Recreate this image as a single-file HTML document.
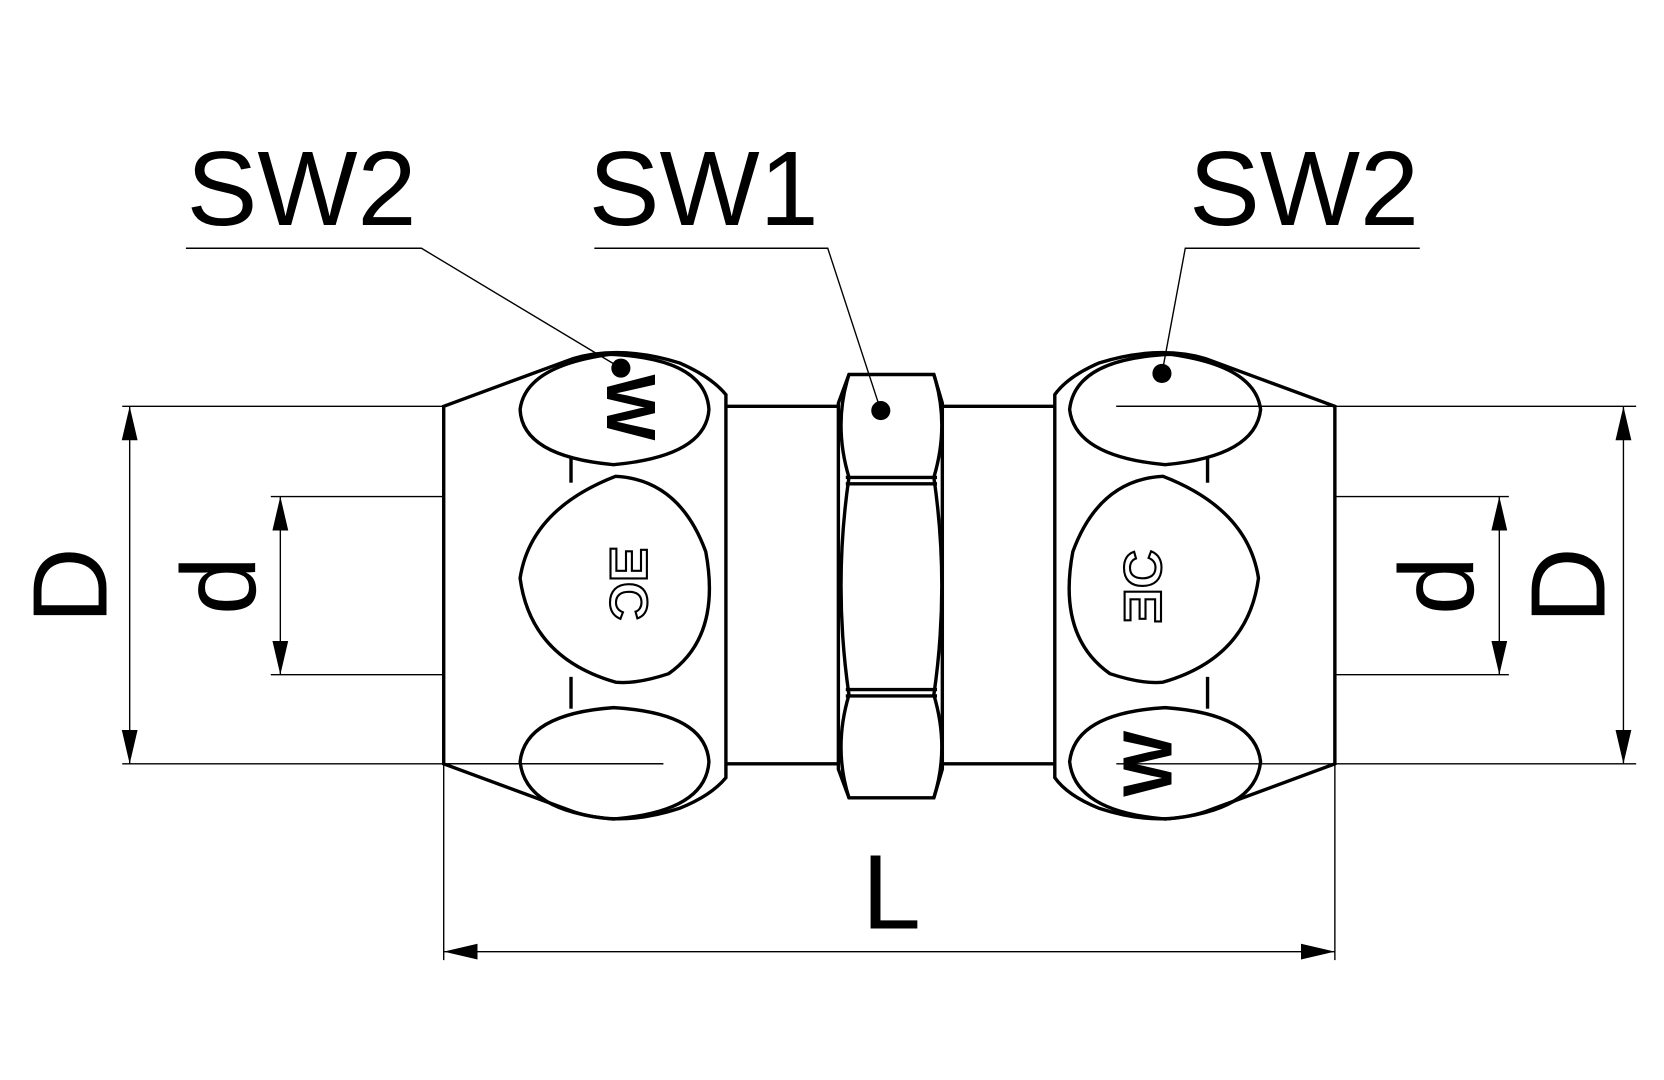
<!DOCTYPE html>
<html><head><meta charset="utf-8"><style>html,body{margin:0;padding:0;background:#fff;width:1664px;height:1080px;overflow:hidden}svg{display:block}</style></head>
<body>
<svg width="1664" height="1080" viewBox="0 0 1568 1018" xmlns="http://www.w3.org/2000/svg" font-family="Liberation Sans, sans-serif">
<defs>
<marker id="b" viewBox="0 0 30 14" refX="30" refY="7" markerWidth="32" markerHeight="18" markerUnits="userSpaceOnUse" orient="auto-start-reverse"><path d="M0,0L30,7L0,14z" fill="#000"/></marker>
</defs>
<g fill="none" stroke="#000">
<g stroke-width="1.3">
<polyline points="175,234 397,234 585,347"/>
<polyline points="560,234 780,234 830,387"/>
<polyline points="1338,234 1117,234 1095,352"/>
</g>
<g stroke-width="1.3">
<line x1="115" y1="383" x2="418" y2="383"/>
<line x1="115" y1="720" x2="625" y2="720"/>
<line x1="255" y1="468" x2="418" y2="468"/>
<line x1="255" y1="636" x2="418" y2="636"/>
<line x1="122" y1="383" x2="122" y2="720" marker-start="url(#b)" marker-end="url(#b)"/>
<line x1="264" y1="468" x2="264" y2="636" marker-start="url(#b)" marker-end="url(#b)"/>
<line x1="1052" y1="383" x2="1542" y2="383"/>
<line x1="1052" y1="720" x2="1542" y2="720"/>
<line x1="1258" y1="468" x2="1422" y2="468"/>
<line x1="1258" y1="636" x2="1422" y2="636"/>
<line x1="1530" y1="383" x2="1530" y2="720" marker-start="url(#b)" marker-end="url(#b)"/>
<line x1="1413" y1="468" x2="1413" y2="636" marker-start="url(#b)" marker-end="url(#b)"/>
<line x1="418" y1="720" x2="418" y2="905"/>
<line x1="1258" y1="720" x2="1258" y2="905"/>
<line x1="418" y1="897" x2="1258" y2="897" marker-start="url(#b)" marker-end="url(#b)"/>
</g>
<g stroke-width="3.2">
<path d="M418,383 L540,338 Q585,325 640,342 Q670,355 684,372 L684,733 Q670,750 640,762 Q585,780 540,765 L418,720 Z"/>
<path d="M490,386 Q495,345 575,334 Q665,338 668,386 Q665,430 578,438 Q492,430 490,386 Z"/>
<path d="M580,449 Q640,452 665,520 Q680,600 630,635 Q600,645 580,643 Q500,620 490,545 Q500,480 580,449 Z"/>
<path d="M490,718 Q495,673 578,667 Q665,672 668,718 Q665,765 578,772 Q495,765 490,718 Z"/>
<line x1="538" y1="430" x2="538" y2="455"/>
<line x1="538" y1="638" x2="538" y2="668"/>
<line x1="684" y1="383" x2="790" y2="383"/>
<line x1="684" y1="720" x2="790" y2="720"/>
<line x1="888" y1="383" x2="994" y2="383"/>
<line x1="888" y1="720" x2="994" y2="720"/>
<path d="M800,353 L880,353 L888,380 L888,725 L880,752 L800,752 L790,725 L790,380 Z"/>
<path d="M800,353 Q785,400 800,450 M880,353 Q895,400 880,450"/>
<path d="M800,655 Q785,705 800,752 M880,655 Q895,705 880,752"/>
<path d="M800,450 Q785,552 800,655 M880,450 Q895,552 880,655"/>
<line x1="797" y1="450" x2="883" y2="450"/><line x1="797" y1="456" x2="883" y2="456"/>
<line x1="797" y1="650" x2="883" y2="650"/><line x1="797" y1="656" x2="883" y2="656"/>
<path d="M1258,383 L1136,338 Q1091,325 1036,342 Q1006,355 994,372 L994,733 Q1006,750 1036,762 Q1091,780 1136,765 L1258,720 Z"/>
<path d="M1188,386 Q1183,345 1103,334 Q1013,338 1008,386 Q1013,430 1098,438 Q1183,430 1188,386 Z"/>
<path d="M1096,449 Q1036,452 1011,520 Q996,600 1046,635 Q1076,645 1096,643 Q1176,620 1186,545 Q1176,480 1096,449 Z"/>
<path d="M1188,718 Q1183,673 1098,667 Q1013,672 1008,718 Q1013,765 1098,772 Q1183,765 1188,718 Z"/>
<line x1="1138" y1="430" x2="1138" y2="455"/>
<line x1="1138" y1="638" x2="1138" y2="668"/>
</g>
</g>
<g stroke="#000" stroke-width="1.3"><line x1="418" y1="720" x2="625" y2="720"/><line x1="1052" y1="383" x2="1258" y2="383"/></g>
<circle cx="585" cy="347" r="9"/><circle cx="830" cy="387" r="9"/><circle cx="1095" cy="352" r="9"/>
<g font-size="100" text-anchor="middle">
<text x="284" y="212">SW2</text>
<text x="663" y="212">SW1</text>
<text x="1229" y="212">SW2</text>
<text x="840" y="875">L</text>
<text transform="translate(100,552) rotate(-90)">D</text>
<text transform="translate(240,552) rotate(-90)">d</text>
<text transform="translate(1388,552) rotate(-90)">d</text>
<text transform="translate(1512,552) rotate(-90)">D</text>
</g>
<g font-size="66" font-weight="bold" text-anchor="middle">
<text transform="translate(572,384) rotate(90)">W</text>
<text transform="translate(1104,720) rotate(-90)">W</text>
</g>
<g font-size="50" font-weight="bold" text-anchor="middle" fill="#fff" stroke="#000" stroke-width="2">
<text transform="translate(575,550) rotate(90)">ƎC</text>
<text transform="translate(1094,553) rotate(-90)">ƎC</text>
</g>
</svg>
</body></html>
